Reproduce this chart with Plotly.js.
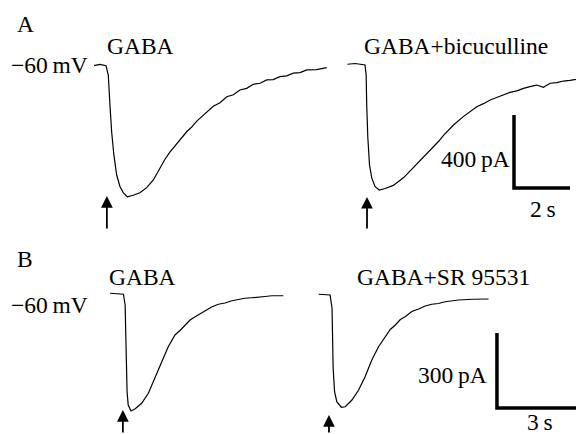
<!DOCTYPE html>
<html>
<head>
<meta charset="utf-8">
<script src="https://cdn.plot.ly/plotly-3.0.1.min.js"></script>
<style>html,body{margin:0;padding:0;background:#fff;}#chart{width:576px;height:434px;}</style>
</head>
<body>
<div id="chart"></div>
<script>
// ---------- Data (time in s from trace start, current in pA relative to holding) ----------
// Panel A, trace 1: GABA
const tA1 = [0, 0.21, 0.43, 0.51, 0.57, 0.63, 0.71, 0.81, 0.93, 1.05, 1.19, 1.40, 1.64, 1.88, 2.12, 2.36, 2.53, 2.71, 2.95, 3.13, 3.31, 3.49, 3.67, 3.85, 4.03, 4.26, 4.50, 4.74, 4.98, 5.21, 5.45, 5.69, 5.93, 6.17, 6.40, 6.64, 6.88, 7.12, 7.36, 7.60, 7.95, 8.31];
const iA1 = [-4, 3, -4, -55, -219, -366, -493, -603, -667, -701, -722, -714, -700, -672, -630, -562, -518, -478, -433, -395, -366, -340, -308, -283, -259, -226, -207, -174, -163, -137, -128, -106, -100, -82, -80, -64, -60, -45, -42, -27, -25, -15];
// Panel A, trace 2: GABA + bicuculline
const tA2 = [0, 0.28, 0.63, 0.67, 0.69, 0.73, 0.79, 0.87, 0.99, 1.14, 1.35, 1.64, 2.01, 2.36, 2.54, 2.72, 3.08, 3.26, 3.44, 3.79, 4.14, 4.38, 4.62, 4.86, 5.10, 5.33, 5.57, 5.81, 6.05, 6.29, 6.52, 6.76, 7.00, 7.24, 7.48, 7.72, 7.95, 8.17, 8.49];
const iA2 = [4, 8, 0, -55, -219, -400, -548, -619, -667, -685, -677, -660, -617, -562, -532, -503, -448, -418, -384, -329, -283, -258, -229, -212, -192, -178, -164, -150, -142, -128, -119, -110, -122, -100, -97, -88, -84, -77, -71];
// Panel B, trace 3: GABA
const tB1 = [0, 0.48, 0.54, 0.56, 0.58, 0.61, 0.65, 0.75, 0.89, 1.13, 1.37, 1.61, 1.85, 2.08, 2.32, 2.50, 2.68, 2.86, 3.04, 3.21, 3.39, 3.63, 3.87, 4.11, 4.35, 4.58, 4.82, 5.06, 5.30, 5.54, 5.78, 6.19];
const iB1 = [3, -1, -44, -164, -296, -391, -444, -468, -460, -437, -397, -337, -271, -211, -164, -146, -124, -104, -91, -80, -68, -52, -41, -36, -27, -21, -17, -15, -11, -10, -7, -7];
// Panel B, trace 4: GABA + SR 95531
const tB2 = [0, 0.41, 0.48, 0.50, 0.52, 0.57, 0.65, 0.81, 0.95, 1.19, 1.43, 1.66, 1.90, 2.14, 2.38, 2.56, 2.74, 2.92, 3.09, 3.33, 3.57, 3.81, 4.04, 4.28, 4.52, 4.76, 5.00, 5.48, 6.07];
const iB2 = [-1, -4, -57, -164, -297, -391, -431, -453, -451, -424, -384, -331, -264, -211, -171, -142, -124, -102, -91, -70, -60, -48, -41, -38, -31, -27, -24, -21, -20];

// Onset of the second trace in each panel (s) and stimulus (arrow) times (s)
const onsetA2 = 9.05;
const onsetB2 = 7.45;
const stimA = [0.46, 9.75];
const stimB = [0.46, 7.82];
const peakA = [-718, -723];
const peakB = [-464, -484];

// Scale bars
const scaleA = {s: 2, pA: 400};
const scaleB = {s: 3, pA: 300};

// Labels
const panelLabels = ['A', 'B'];
const condA = ['GABA', 'GABA+bicuculline'];
const condB = ['GABA', 'GABA+SR 95531'];
const holdLabel = '\u221260\u2009mV';

// ---------- Layout helpers ----------
const W = 576, H = 434;
const px = x => x / W;
const py = y => 1 - y / H;
const FONT = {family: '"Liberation Serif", serif', size: 23.5, color: '#000'};

const line = {color: '#000', width: 1.2};
const barLine = {color: '#000', width: 3.5};

const traces = [
  {x: tA1, y: iA1, xaxis: 'x', yaxis: 'y', mode: 'lines', line: line, hoverinfo: 'skip'},
  {x: tA2.map(t => t + onsetA2), y: iA2, xaxis: 'x', yaxis: 'y', mode: 'lines', line: line, hoverinfo: 'skip'},
  {x: tB1, y: iB1, xaxis: 'x2', yaxis: 'y2', mode: 'lines', line: line, hoverinfo: 'skip'},
  {x: tB2.map(t => t + onsetB2), y: iB2, xaxis: 'x2', yaxis: 'y2', mode: 'lines', line: line, hoverinfo: 'skip'},
];

// scale bar A anchored at (15.0 s, -674 pA); B at (13.82 s, -456 pA)
const sbA = {x0: 15.0, y0: -674};
const sbB = {x0: 13.82, y0: -456};
traces.push({x: [sbA.x0, sbA.x0, sbA.x0 + scaleA.s], y: [sbA.y0 + scaleA.pA, sbA.y0, sbA.y0],
  xaxis: 'x', yaxis: 'y', mode: 'lines', line: barLine, hoverinfo: 'skip'});
traces.push({x: [sbB.x0, sbB.x0, sbB.x0 + scaleB.s], y: [sbB.y0 + scaleB.pA, sbB.y0, sbB.y0],
  xaxis: 'x2', yaxis: 'y2', mode: 'lines', line: barLine, hoverinfo: 'skip'});

const ann = [];
function txt(text, x, y, xanchor, yanchor) {
  ann.push({text: text, xref: 'paper', yref: 'paper', x: px(x), y: py(y),
    xanchor: xanchor || 'center', yanchor: yanchor || 'middle', showarrow: false, font: FONT});
}
txt(panelLabels[0], 15, 24, 'left');
txt(condA[0], 140, 46);
txt(condA[1], 456, 46);
txt(holdLabel, 90, 65, 'right');
txt(scaleA.pA + '\u2009pA', 512, 159, 'right');
txt(scaleA.s + '\u2009s', 543, 209);
txt(panelLabels[1], 15, 259, 'left');
txt(condB[0], 142, 277);
txt(condB[1], 443, 277);
txt(holdLabel, 90, 305, 'right');
txt(scaleB.pA + '\u2009pA', 489, 375, 'right');
txt(scaleB.s + '\u2009s', 540, 422);

function arrow(x, y, xr, yr, len) {
  ann.push({text: '', x: x, y: y, xref: xr, yref: yr, showarrow: true, ax: 0, ay: len,
    arrowhead: 2, arrowsize: 1.3, arrowwidth: 1.8, arrowcolor: '#000', standoff: 0});
}
arrow(stimA[0], peakA[0], 'x', 'y', 34);
arrow(stimA[1], peakA[1], 'x', 'y', 33);
arrow(stimB[0], peakB[0], 'x2', 'y2', 26);
arrow(stimB[1], peakB[1], 'x2', 'y2', 21);

const hidden = {visible: false, fixedrange: true};
const layout = {
  width: W, height: H,
  margin: {l: 0, r: 0, t: 0, b: 0, pad: 0},
  paper_bgcolor: '#fff', plot_bgcolor: '#fff',
  showlegend: false,
  font: FONT,
  xaxis: Object.assign({range: [-94 / 28, 482 / 28], anchor: 'y'}, hidden),
  yaxis: Object.assign({range: [-2022, 356], anchor: 'x'}, hidden),
  xaxis2: Object.assign({range: [-110 / 28, 466 / 28], overlaying: 'x', anchor: 'y2'}, hidden),
  yaxis2: Object.assign({range: [-560, 1176], overlaying: 'y', anchor: 'x2'}, hidden),
  annotations: ann,
};
Plotly.newPlot('chart', traces, layout, {staticPlot: true, displayModeBar: false});
</script>
</body>
</html>
